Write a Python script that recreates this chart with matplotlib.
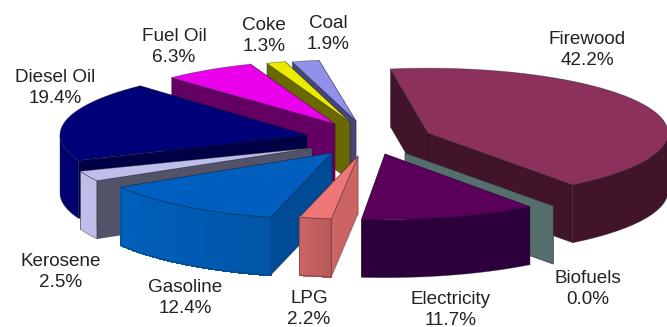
import numpy as np
import matplotlib
matplotlib.use("Agg")
import matplotlib.pyplot as plt
from matplotlib.colors import to_rgb

plt.rcParams['font.family'] = ['Liberation Sans', 'DejaVu Sans']

# Energy shares in percent, clockwise from the back of the pie
sources = ["Firewood", "Biofuels", "Electricity", "LPG", "Gasoline",
           "Kerosene", "Diesel Oil", "Fuel Oil", "Coke", "Coal"]
shares = [42.2, 0.0, 11.7, 2.2, 12.4, 2.5, 19.4, 6.3, 1.3, 1.9]

# Top-face colour, rim colour, flat-side colour of each slice
top_colors = ["#8c305c", "#566e6e", "#5a005a", "#ee7676", "#005fbe",
              "#bebeeb", "#000078", "#eb00eb", "#ebeb00", "#9191eb"]
rim_colors = ["#41142a", "#566e6e", "#2d003c", "#cd6464", "#0060bc",
              "#bebeeb", "#00006e", "#640064", "#696900", "#46467a"]
side_colors = ["#41142a", "#566e6e", "#2d003c", "#cd6464", "#004b96",
               "#525269", "#000046", "#640064", "#696900", "#46467a"]
# Brightness of the wall at its clockwise end relative to its other end
rim_fade = [1.0, 1.0, 1.0, 1.12, 1.12, 1.0, 1.0, 1.0, 1.0, 1.0]

# Exploded tip of each slice on the canvas, and where its label sits
tips = [(428, 133), (405, 153), (385, 154), (358, 156), (332, 153),
        (312, 148), (307, 135), (335, 124), (350, 122), (356, 121)]
label_pos = [(587, 50), (588, 289), (451, 310), (309, 309), (185, 298),
             (61, 272), (55, 88), (174, 47), (264, 36), (328, 34)]
radii = [240, 246, 243, 234, 246, 247, 247, 237, 233, 228]
# Small turn of each slice, standing in for the perspective of the view
turns = [0, 0, 0.5, 1.5, 1.5, 3, 1, 0, 0, 0]

START_DEG = 351.0
SQUASH = 0.27
DEPTH = 58

# Painter's order, far slices first
draw_order = [9, 8, 7, 6, 0, 1, 2, 5, 4, 3]

fig = plt.figure(figsize=(6.67, 3.27), dpi=100)
ax = fig.add_axes([0, 0, 1, 1])
ax.set_xlim(0, 667)
ax.set_ylim(327, 0)
ax.axis("off")

OUTLINE = (0.1, 0.1, 0.15, 0.4)


def rim_point(tip, radius, deg):
    t = np.radians(deg)
    return (tip[0] + radius * np.sin(t),
            tip[1] - radius * SQUASH * np.cos(t))


def polygon(points, color):
    xs, ys = zip(*points)
    ax.fill(xs, ys, facecolor=color, edgecolor=OUTLINE,
            linewidth=0.6, joinstyle="round")


edges = START_DEG + np.concatenate([[0], np.cumsum(shares)]) * 3.6

for i in draw_order:
    tip, r = tips[i], radii[i]
    a0, a1 = edges[i] + turns[i], edges[i + 1] + turns[i]
    arc = np.linspace(a0, a1, max(int(a1 - a0) + 2, 2))
    rim = [rim_point(tip, r, a) for a in arc]

    # Flat cut faces running from the tip to the rim
    for end in (rim[-1], rim[0]):
        polygon([tip, end, (end[0], end[1] + DEPTH), (tip[0], tip[1] + DEPTH)],
                side_colors[i])

    # Outer wall, only where it faces the viewer
    front = [a for a in arc if 90 <= (a % 360) <= 270]
    if len(front) > 1 and shares[i] > 0:
        upper = [rim_point(tip, r, a) for a in front]
        lower = [(x, y + DEPTH) for x, y in upper]
        if rim_fade[i] == 1.0:
            polygon(upper + lower[::-1], rim_colors[i])
        else:
            base = np.array(to_rgb(rim_colors[i]))
            shade = np.linspace(1.0, rim_fade[i], len(upper) - 1)
            for k, f in enumerate(shade):
                c = tuple(np.clip(base * f / rim_fade[i], 0, 1))
                xs, ys = zip(upper[k], upper[k + 1], lower[k + 1], lower[k])
                ax.fill(xs, ys, facecolor=c, edgecolor=c, linewidth=0.8,
                        antialiased=False)
            polygon(upper + lower[::-1], "none")

    # Top face
    if shares[i] > 0:
        polygon([tip] + rim, top_colors[i])

for name, value, (x, y) in zip(sources, shares, label_pos):
    ax.text(x, y, f"{name}\n{value:.1f}%", ha="center", va="center",
            fontsize=13.6, color="#222222", linespacing=1.36)

fig.savefig("out.png", dpi=100)
